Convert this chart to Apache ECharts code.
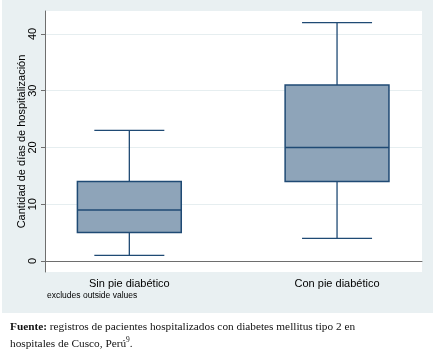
<!DOCTYPE html>
<html>
<head>
<meta charset="utf-8">
<script src="https://cdn.jsdelivr.net/npm/echarts@6/dist/echarts.min.js"></script>
<style>html,body{margin:0;padding:0;background:#fff;}#c{width:435px;height:361px;}</style>
</head>
<body>
<div id="c"></div>
<script>
// ---- data ----
const categories = ['Sin pie diabético', 'Con pie diabético'];
const whiskerLow = [1, 4];
const q1 = [5, 14];
const median = [9, 20];
const q3 = [14, 31];
const whiskerHigh = [23, 42];
const yTicks = [0, 10, 20, 30, 40];
const yTitle = 'Cantidad de días de hospitalización';
const note = 'excludes outside values';
const captionBold = 'Fuente:';
const captionText = ' registros de pacientes hospitalizados con diabetes mellitus tipo 2 en';
const captionText2 = 'hospitales de Cusco, Perú';
const captionSup = '9';

const boxData = categories.map((c, i) => [i + 1, whiskerLow[i], q1[i], median[i], q3[i], whiskerHigh[i]]);

const NAVY = '#1f4a74';
const FILL = '#8ea4b9';
const chart = echarts.init(document.getElementById('c'), null, {renderer: 'canvas'});
chart.setOption({
  animation: false,
  backgroundColor: '#ffffff',
  graphic: [
    {type: 'rect', z: -10, shape: {x: 2, y: 0, width: 431, height: 313}, style: {fill: '#e9f0f2'}, silent: true},
    {type: 'text', left: 47, top: 291, style: {text: note, font: '8.5px "Liberation Sans", Arial, sans-serif', fill: '#000'}},
    {type: 'text', left: 10, top: 322, style: {
      text: '{b|' + captionBold + '}{n|' + captionText + '}\n{n|' + captionText2 + '}{s|' + captionSup + '}{n|.}',
      rich: {
        b: {font: 'bold 11.3px "Liberation Serif", "DejaVu Serif", serif', fill: '#111', lineHeight: 17},
        n: {font: '11.3px "Liberation Serif", "DejaVu Serif", serif', fill: '#111', lineHeight: 17},
        s: {font: '7.5px "Liberation Serif", "DejaVu Serif", serif', fill: '#111', verticalAlign: 'top', lineHeight: 17}
      }
    }}
  ],
  grid: {left: 45, right: 13, top: 11, bottom: 89, show: true, backgroundColor: '#ffffff', borderWidth: 0},
  xAxis: {
    type: 'value', min: 0.594, max: 2.409,
    axisLine: {show: true, lineStyle: {color: '#6e6e6e', width: 1}},
    axisTick: {show: false},
    splitLine: {show: false},
    axisLabel: {
      customValues: [1, 2], margin: 6,
      formatter: v => categories[Math.round(v) - 1] || '',
      color: '#000', fontSize: 11, fontFamily: '"Liberation Sans", Arial, sans-serif'
    }
  },
  yAxis: {
    type: 'value', min: -1.94, max: 44.05,
    name: yTitle, nameLocation: 'middle', nameRotate: 90, nameGap: 18, nameMoveOverlap: false,
    nameTextStyle: {color: '#000', fontSize: 11, fontFamily: '"Liberation Sans", Arial, sans-serif'},
    axisLine: {show: true, lineStyle: {color: '#6e6e6e', width: 1}},
    axisTick: {show: true, length: 4, customValues: yTicks, lineStyle: {color: '#6e6e6e'}},
    splitLine: {show: true, lineStyle: {color: '#e6eef0', width: 1}},
    axisLabel: {
      customValues: yTicks, rotate: 90, margin: 7,
      color: '#000', fontSize: 11, fontFamily: '"Liberation Sans", Arial, sans-serif'
    }
  },
  series: [{
    type: 'custom',
    data: boxData,
    encode: {x: 0, y: [1, 2, 3, 4, 5]},
    renderItem: function (params, api) {
      const x = api.value(0);
      const pLo = api.coord([x, api.value(1)]);
      const pQ1 = api.coord([x, api.value(2)]);
      const pMed = api.coord([x, api.value(3)]);
      const pQ3 = api.coord([x, api.value(4)]);
      const pHi = api.coord([x, api.value(5)]);
      const unit = api.size([1, 0])[0];
      const bw = unit * 0.5, cw = unit * 0.337;
      const cx = pMed[0];
      const ls = {stroke: NAVY, lineWidth: 1.3};
      return {
        type: 'group',
        children: [
          {type: 'line', shape: {x1: cx, y1: pQ3[1], x2: cx, y2: pHi[1]}, style: ls},
          {type: 'line', shape: {x1: cx, y1: pLo[1], x2: cx, y2: pQ1[1]}, style: ls},
          {type: 'line', shape: {x1: cx - cw / 2, y1: pHi[1], x2: cx + cw / 2, y2: pHi[1]}, style: ls},
          {type: 'line', shape: {x1: cx - cw / 2, y1: pLo[1], x2: cx + cw / 2, y2: pLo[1]}, style: ls},
          {type: 'rect', shape: {x: cx - bw / 2, y: pQ3[1], width: bw, height: pQ1[1] - pQ3[1]}, style: {fill: FILL, stroke: NAVY, lineWidth: 1.5}},
          {type: 'line', shape: {x1: cx - bw / 2, y1: pMed[1], x2: cx + bw / 2, y2: pMed[1]}, style: {stroke: NAVY, lineWidth: 1.5}}
        ]
      };
    }
  }]
});
</script>
</body>
</html>
